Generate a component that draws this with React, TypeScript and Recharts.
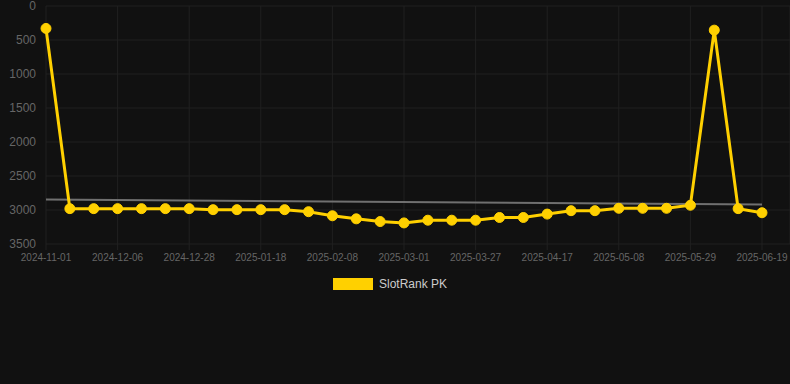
import React from 'react';
import {
  CartesianGrid,
  Legend,
  Line,
  LineChart,
  XAxis,
  YAxis,
} from 'recharts';

const dates = [
  '2024-11-01', '2024-11-15', '2024-11-29', '2024-12-06', '2024-12-13',
  '2024-12-20', '2024-12-28', '2025-01-04', '2025-01-11', '2025-01-18',
  '2025-01-25', '2025-02-01', '2025-02-08', '2025-02-15', '2025-02-22',
  '2025-03-01', '2025-03-08', '2025-03-18', '2025-03-27', '2025-04-03',
  '2025-04-10', '2025-04-17', '2025-04-24', '2025-05-01', '2025-05-08',
  '2025-05-15', '2025-05-22', '2025-05-29', '2025-06-05', '2025-06-12',
  '2025-06-19',
];

const rankPK = [
  330, 2980, 2980, 2980, 2980, 2980, 2980, 2995, 2995, 2995,
  2995, 3025, 3085, 3130, 3170, 3190, 3150, 3150, 3150, 3110,
  3110, 3060, 3010, 3010, 2975, 2975, 2975, 2930, 355, 2980,
  3040,
];

// trend line: only the two ends are known, the line joins them
const trendStart = 2845;
const trendEnd = 2920;

const yTicks = [0, 500, 1000, 1500, 2000, 2500, 3000, 3500];

const YELLOW = '#ffd000';

const data = dates.map((d, i) => ({
  date: d,
  rank: rankPK[i],
  trend: i === 0 ? trendStart : i === dates.length - 1 ? trendEnd : null,
}));

function LegendBox() {
  return (
    <div style={{ display: 'flex', justifyContent: 'center', alignItems: 'center', height: 24, paddingRight: 10 }}>
      <span style={{ display: 'inline-block', width: 40, height: 12, background: YELLOW, marginRight: 6 }} />
      <span style={{ color: '#cccccc', fontSize: 12 }}>SlotRank PK</span>
    </div>
  );
}

export default function App() {
  return (
    <div
      style={{
        position: 'fixed',
        left: 0,
        top: 0,
        width: 790,
        height: 384,
        background: '#111111',
        fontFamily: '"Liberation Sans", Arial, sans-serif',
      }}
    >
      <LineChart
        width={790}
        height={384}
        data={data}
        margin={{ top: 6, right: 0, left: 0, bottom: 88 }}
      >
        <CartesianGrid stroke='#202020' strokeWidth={1} />
        <XAxis
          dataKey='date'
          interval={2}
          height={28}
          padding={{ left: 0, right: 28 }}
          axisLine={false}
          tickLine={{ stroke: '#202020' }}
          tickSize={6}
          tickMargin={4}
          tick={{ fill: '#666666', fontSize: 10 }}
        />
        <YAxis
          reversed
          domain={[0, 3500]}
          ticks={yTicks}
          interval={0}
          width={46}
          axisLine={false}
          tickLine={false}
          tickMargin={4}
          tick={{ fill: '#666666', fontSize: 12 }}
        />
        <Legend verticalAlign='bottom' height={24} content={() => <LegendBox />} />
        <Line
          dataKey='trend'
          stroke='#707070'
          strokeWidth={2}
          dot={false}
          connectNulls
          legendType='none'
          isAnimationActive={false}
        />
        <Line
          dataKey='rank'
          name='SlotRank PK'
          type='linear'
          stroke={YELLOW}
          strokeWidth={3}
          dot={{ r: 5, fill: YELLOW, stroke: YELLOW, strokeWidth: 1 }}
          activeDot={false}
          isAnimationActive={false}
        />
      </LineChart>
    </div>
  );
}
